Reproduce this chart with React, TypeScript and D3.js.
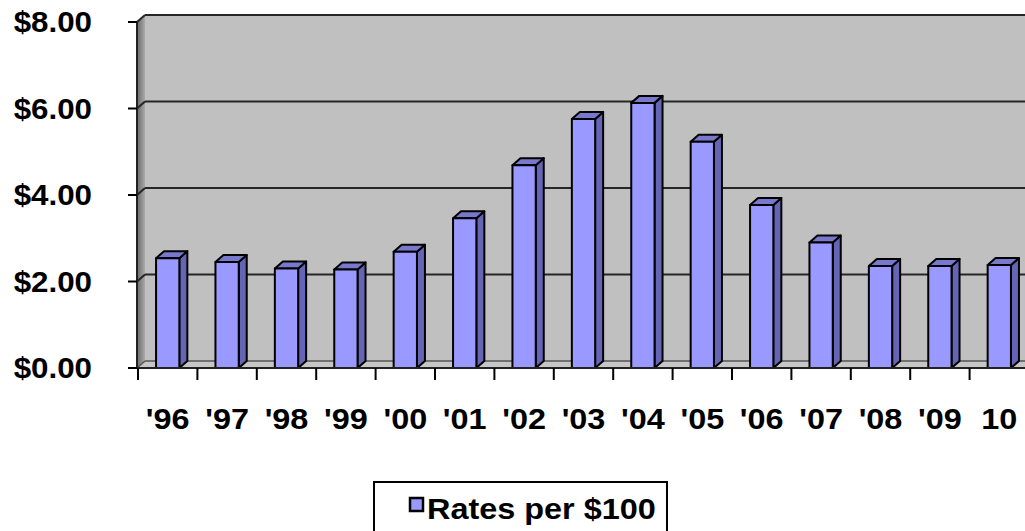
import React from "react";
import * as d3 from "d3";

// Rates per $100, by year
const years = ["'96", "'97", "'98", "'99", "'00", "'01", "'02", "'03", "'04", "'05", "'06", "'07", "'08", "'09", "10"];
const rates = [2.54, 2.45, 2.3, 2.28, 2.69, 3.46, 4.69, 5.76, 6.13, 5.23, 3.77, 2.9, 2.36, 2.36, 2.38];
const yTicks = [0, 2, 4, 6, 8];
const seriesName = "Rates per $100";

const W = 1025;
const H = 531;
const FONT = "'Liberation Sans', Arial, sans-serif";
const STRETCH = 1.08; // slightly wide lettering

// oblique depth of the 3D box
const DX = 8;
const DY = -7;

function Label(props: { x: number; y: number; anchor: string; size: number; children: React.ReactNode; dy?: string }) {
  return (
    <text
      transform={`translate(${props.x},${props.y}) scale(${STRETCH},1)`}
      dy={props.dy}
      textAnchor={props.anchor}
      fontFamily={FONT}
      fontWeight="bold"
      fontSize={props.size}
      fill="#000"
    >
      {props.children}
    </text>
  );
}

export default function App() {
  const x = d3
    .scaleBand<string>()
    .domain(years)
    .range([138, 138 + years.length * 59.4])
    .paddingInner(0.608)
    .paddingOuter(0.304);
  const y = d3.scaleLinear().domain([0, 8]).range([368, 22]);
  const fmt = d3.format("$.2f");

  const left = 137;
  const right = x.range()[1] + 20;
  const y0 = y(0);
  const yTop = y(8);
  const step = x.step();
  const bw = x.bandwidth();

  return (
    <div style={{ position: "absolute", left: 0, top: 0 }}>
      <svg width={W} height={H} style={{ display: "block", background: "#fff" }}>
        <defs>
          <linearGradient id="sideWall" x1="0" x2="1" y1="0" y2="0">
            <stop offset="0" stopColor="#6a6a6a" />
            <stop offset="1" stopColor="#a9a9a9" />
          </linearGradient>
        </defs>

        {/* walls and floor */}
        <polygon
          points={`${left},${yTop} ${left + DX},${yTop + DY} ${left + DX},${y0 + DY} ${left},${y0}`}
          fill="url(#sideWall)"
        />
        <rect x={left + DX} y={yTop + DY} width={right - left} height={y0 - yTop} fill="#c0c0c0" />
        <polygon
          points={`${left},${y0} ${left + DX},${y0 + DY} ${right + DX},${y0 + DY} ${right},${y0}`}
          fill="#c6c6c6"
        />

        {/* gridlines on side and back walls */}
        {yTicks.map((v) => (
          <g key={v} stroke={v === 0 ? "#555" : "#262626"} strokeWidth={v === 0 ? 1.5 : 2} fill="none">
            <line x1={left} y1={y(v)} x2={left + DX} y2={y(v) + DY} />
            <line x1={left + DX} y1={y(v) + DY} x2={right + DX} y2={y(v) + DY} />
          </g>
        ))}

        {/* bars */}
        {years.map((yr, i) => {
          const bx = x(yr)!;
          const bt = y(rates[i]);
          return (
            <g key={yr} stroke="#000" strokeWidth={2} strokeLinejoin="round">
              <polygon
                points={`${bx + bw},${bt} ${bx + bw + DX},${bt + DY} ${bx + bw + DX},${y0 + DY} ${bx + bw},${y0}`}
                fill="#6565b5"
              />
              <polygon
                points={`${bx},${bt} ${bx + DX},${bt + DY} ${bx + bw + DX},${bt + DY} ${bx + bw},${bt}`}
                fill="#7878cc"
              />
              <rect x={bx} y={bt} width={bw} height={y0 - bt} fill="#9999ff" />
            </g>
          );
        })}

        {/* axes */}
        <line x1={left} y1={yTop} x2={left} y2={y0} stroke="#222" strokeWidth={2} />
        <line x1={left} y1={y0} x2={right} y2={y0} stroke="#222" strokeWidth={2} />
        {yTicks.map((v) => (
          <line key={v} x1={128} y1={y(v)} x2={left} y2={y(v)} stroke="#000" strokeWidth={2} />
        ))}
        {d3.range(years.length + 1).map((i) => {
          const tx = x.range()[0] + i * step;
          return <line key={i} x1={tx} y1={y0} x2={tx} y2={y0 + 12} stroke="#000" strokeWidth={2} />;
        })}

        {/* tick labels */}
        {yTicks.map((v) => (
          <Label key={v} x={92} y={y(v)} dy="0.36em" anchor="end" size={29}>
            {fmt(v)}
          </Label>
        ))}
        {years.map((yr) => (
          <Label key={yr} x={x(yr)! + bw / 2} y={429} anchor="middle" size={30}>
            {yr}
          </Label>
        ))}

        {/* legend */}
        <rect x={374} y={482} width={293} height={70} fill="#fff" stroke="#000" strokeWidth={2} />
        <rect x={410} y={498} width={13} height={13} fill="#9999ff" stroke="#000" strokeWidth={2.5} />
        <Label x={427} y={519} anchor="start" size={30}>
          {seriesName}
        </Label>
      </svg>
    </div>
  );
}
